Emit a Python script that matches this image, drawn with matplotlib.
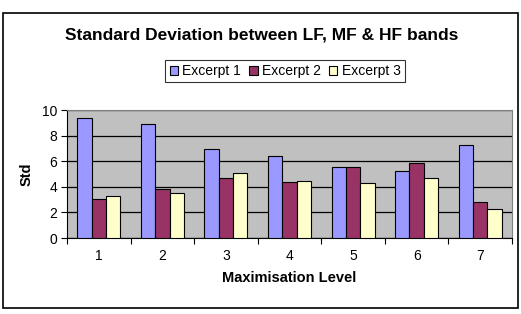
import numpy as np
import matplotlib.pyplot as plt
from matplotlib.patches import Rectangle

plt.rcParams['font.family'] = ['Liberation Sans', 'DejaVu Sans']

levels = ['1', '2', '3', '4', '5', '6', '7']
excerpt1 = [9.35, 8.88, 6.92, 6.42, 5.56, 5.25, 7.26]
excerpt2 = [3.03, 3.79, 4.65, 4.39, 5.56, 5.83, 2.85]
excerpt3 = [3.29, 3.53, 5.07, 4.49, 4.31, 4.65, 2.30]
series_names = ['Excerpt 1', 'Excerpt 2', 'Excerpt 3']
colors = ['#9999FF', '#993366', '#FFFFCC']

fig = plt.figure(figsize=(5.21, 3.14), dpi=100)
ax = fig.add_axes([67 / 521, 1 - 238 / 314, 445 / 521, 128 / 314])

# outer chart border
fig.patches.append(Rectangle((3 / 521, 1 - 308 / 314), 515 / 521, 295 / 314,
                             transform=fig.transFigure, fill=False,
                             edgecolor='black', linewidth=1.2))

x = np.arange(len(levels))
w = 0.225
for i, (vals, name) in enumerate(zip([excerpt1, excerpt2, excerpt3], series_names)):
    ax.bar(x + (i - 1) * w, vals, w, color=colors[i], edgecolor='black',
           linewidth=0.8, label=name, zorder=3)

ax.set_facecolor('#C0C0C0')
ax.set_xlim(-0.5, len(levels) - 0.5)
ax.set_ylim(0, 10)
ax.set_yticks([0, 2, 4, 6, 8, 10])
ax.yaxis.grid(True, color='black', linewidth=0.9, zorder=1)
ax.set_axisbelow(True)

ax.set_xticks(x)
ax.set_xticklabels(levels)
ax.set_xticks(np.arange(-0.5, len(levels)), minor=True)
ax.tick_params(axis='x', which='major', length=0, pad=8, labelsize=10)
ax.tick_params(axis='x', which='minor', length=4, direction='out', width=0.8)
ax.tick_params(axis='y', length=4, width=0.8, labelsize=10, pad=3)

for s in ['top', 'right']:
    ax.spines[s].set_color('#808080')
for s in ['left', 'bottom']:
    ax.spines[s].set_color('black')

ax.set_xlabel('Maximisation Level', fontsize=10.5, fontweight='bold', labelpad=6)
ax.set_ylabel('Std', fontsize=10.5, fontweight='bold', labelpad=6)

fig.text(262 / 521, 1 - 35 / 314, 'Standard Deviation between LF, MF & HF bands',
         ha='center', va='center', fontsize=12.5, fontweight='bold')

leg = fig.legend(loc='center', bbox_to_anchor=(285 / 521, 1 - 71 / 314), ncol=3,
                 fontsize=10, frameon=True, fancybox=False, edgecolor='black',
                 handlelength=0.6, handleheight=0.6, handletextpad=0.3,
                 columnspacing=0.6, borderpad=0.3, borderaxespad=0)
leg.get_frame().set_linewidth(0.8)

fig.savefig('out.png', dpi=100)
